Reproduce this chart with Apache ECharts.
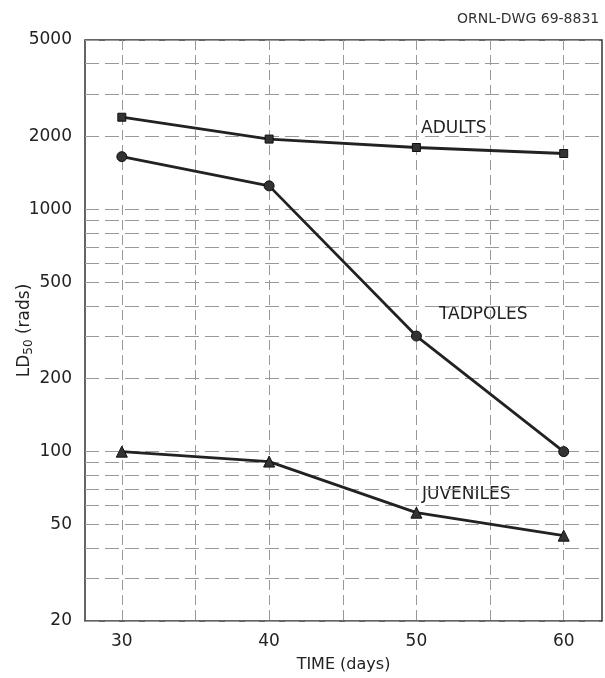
<!DOCTYPE html>
<html>
<head>
<meta charset="utf-8">
<script src="https://cdn.jsdelivr.net/npm/echarts@6/dist/echarts.min.js"></script>
<style>
  html, body { margin: 0; padding: 0; background: #fff; }
  #chart { width: 605px; height: 678px; }
</style>
</head>
<body>
<div id="chart"></div>
<script>
// data
var days = [30, 40, 50, 60];
var adults = [2400, 1950, 1800, 1700];
var tadpoles = [1650, 1250, 300, 100];
var juveniles = [100, 91, 56, 45];

// axis ticks and grid
var yLabels = [20, 50, 100, 200, 500, 1000, 2000, 5000];
var yGrid = [20, 30, 40, 50, 60, 70, 80, 90, 100, 200, 300, 400, 500, 600, 700, 800, 900, 1000, 2000, 3000, 4000, 5000];
var xLabels = [30, 40, 50, 60];
var xGrid = [30, 35, 40, 45, 50, 55, 60];

function pairs(vals) {
  var out = [];
  for (var i = 0; i < days.length; i++) {
    out.push([days[i], vals[i]]);
  }
  return out;
}

var font = 'DejaVu Sans';
var ink = '#222';

function lineSeries(name, vals, symbol, size) {
  return {
    name: name,
    type: 'line',
    data: pairs(vals),
    symbol: symbol,
    symbolSize: size,
    lineStyle: { color: ink, width: 2.8 },
    itemStyle: { color: '#333', borderColor: '#111', borderWidth: 1 },
    z: 5
  };
}

var myChart = echarts.init(document.getElementById('chart'));
var option = {
  animation: false,
  backgroundColor: '#fff',
  grid: {
    left: 85, right: 3, top: 40, bottom: 57,
    outerBoundsMode: 'none',
    show: true, borderColor: '#333', borderWidth: 1.5
  },
  xAxis: {
    type: 'value',
    min: 27.5,
    max: 62.6,
    name: 'TIME (days)',
    nameLocation: 'middle',
    nameGap: 36,
    nameMoveOverlap: false,
    nameTextStyle: { fontFamily: font, fontSize: 16, color: ink },
    axisLine: { show: false },
    axisTick: { show: false, customValues: xGrid },
    axisLabel: { customValues: xLabels, fontFamily: font, fontSize: 17, color: ink, margin: 12 },
    splitLine: { show: true, lineStyle: { color: '#999', width: 1, type: [10, 5] } }
  },
  yAxis: {
    type: 'log',
    min: 20,
    max: 5000,
    name: 'LD{sub|50} (rads)',
    nameLocation: 'middle',
    nameGap: 50,
    nameMoveOverlap: false,
    nameTextStyle: {
      fontFamily: font, fontSize: 17, color: ink,
      rich: {
        sub: { fontFamily: font, fontSize: 12, color: ink, padding: [9, 0, 0, 0] }
      }
    },
    axisLine: { show: false },
    axisTick: { show: false, customValues: yGrid },
    axisLabel: {
      customValues: yLabels, fontFamily: font, fontSize: 17, color: ink, margin: 13,
      formatter: function (v) { return String(v); }
    },
    splitLine: { show: true, lineStyle: { color: '#999', width: 1, type: [14, 6] } }
  },
  graphic: [
    { type: 'text', left: 457, top: 12, style: { text: 'ORNL-DWG 69-8831', fontFamily: font, fontSize: 14, fill: '#333' } },
    { type: 'text', left: 417, top: 118, style: { text: 'ADULTS', fontFamily: font, fontSize: 17, fill: ink, backgroundColor: '#fff', padding: [2, 4] } },
    { type: 'text', left: 435, top: 304, style: { text: 'TADPOLES', fontFamily: font, fontSize: 17, fill: ink, backgroundColor: '#fff', padding: [2, 4] } },
    { type: 'text', left: 418, top: 484, style: { text: 'JUVENILES', fontFamily: font, fontSize: 17, fill: ink, backgroundColor: '#fff', padding: [2, 4] } }
  ],
  series: [
    lineSeries('Adults', adults, 'rect', 8),
    lineSeries('Tadpoles', tadpoles, 'circle', 10),
    lineSeries('Juveniles', juveniles, 'triangle', 11)
  ]
};
option && myChart.setOption(option);
</script>
</body>
</html>
